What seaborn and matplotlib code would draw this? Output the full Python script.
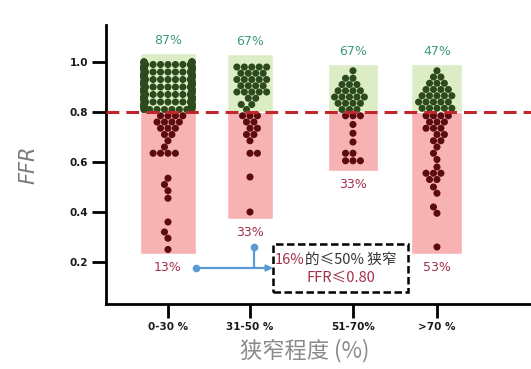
import warnings

import numpy as np
import pandas as pd
import matplotlib
matplotlib.use("Agg")
import matplotlib.pyplot as plt
from matplotlib.patches import Rectangle
import seaborn as sns

warnings.filterwarnings("ignore")

# ---- data: FFR readings per stenosis grade, tabulated as value -> lesion count
groups = ["0-30 %", "31-50 %", "51-70%", ">70 %"]

ffr_0_30 = [1.00, 0.99, 0.98, 0.97, 0.96, 0.95, 0.94, 0.93, 0.92, 0.91,
            0.90, 0.89, 0.88, 0.87, 0.86, 0.85, 0.84, 0.83, 0.82, 0.81,
            0.785, 0.76, 0.735, 0.71, 0.685, 0.66, 0.635,
            0.535, 0.51, 0.485, 0.455, 0.36, 0.32, 0.295, 0.25]
cnt_0_30 = [9, 9, 9, 9, 9, 9, 9, 9, 9, 9,
            9, 9, 9, 9, 9, 9, 9, 9, 9, 9,
            4, 4, 3, 2, 1, 1, 4,
            1, 1, 1, 1, 1, 1, 1, 1]

ffr_31_50 = [0.98, 0.955, 0.93, 0.905, 0.88, 0.855, 0.83, 0.81,
             0.785, 0.76, 0.735, 0.71, 0.685, 0.635, 0.54, 0.40]
cnt_31_50 = [5, 4, 5, 4, 5, 2, 2, 1,
             3, 2, 2, 2, 1, 2, 1, 1]

ffr_51_70 = [0.965, 0.935, 0.91, 0.885, 0.86, 0.835, 0.81,
             0.785, 0.75, 0.715, 0.68, 0.635, 0.605]
cnt_51_70 = [1, 2, 3, 4, 5, 4, 3,
             3, 1, 1, 1, 2, 3]

ffr_70 = [0.965, 0.94, 0.915, 0.89, 0.865, 0.84, 0.815,
          0.785, 0.76, 0.735, 0.71, 0.685, 0.66, 0.635, 0.61, 0.58,
          0.555, 0.53, 0.50, 0.475, 0.42, 0.395, 0.26]
cnt_70 = [1, 2, 3, 4, 5, 5, 5,
          4, 3, 3, 2, 2, 1, 1, 1, 1,
          3, 2, 1, 1, 1, 1, 1]

cutoff = 0.80
yticks = [0.2, 0.4, 0.6, 0.8, 1.0]

# ---- layout: group centres on the x axis and shaded band extents
x_pos = [0.0, 1.367, 3.083, 4.483]
band_w = [0.93, 0.78, 0.82, 0.85]
band_top = [1.036, 1.032, 0.992, 0.992]
band_bottom = [0.233, 0.372, 0.563, 0.233]

dot_palette = {"high": "#2c4a1d", "low": "#5c0b0f"}
band_green = "#dcedc6"
band_red = "#f7b3b4"
txt_green = "#3d9d76"
txt_red = "#a3304b"
link_blue = "#5b9bd5"

sns.set_theme(style="white")
plt.rcParams["font.family"] = ["DejaVu Sans", "Noto Sans CJK SC"]

fig, ax = plt.subplots(figsize=(5.31, 3.69), dpi=100)
fig.subplots_adjust(left=0.1996, right=1.0, bottom=0.1762, top=0.9322)

series = [(ffr_0_30, cnt_0_30), (ffr_31_50, cnt_31_50),
          (ffr_51_70, cnt_51_70), (ffr_70, cnt_70)]

for (vals, cnts), xp, w, top, bot in zip(series, x_pos, band_w, band_top, band_bottom):
    ffr = np.repeat(vals, cnts)
    # shaded bands above / below the cutoff
    ax.bar(xp, top - cutoff, bottom=cutoff, width=w, color=band_green, zorder=1)
    ax.bar(xp, cutoff - bot, bottom=bot, width=w, color=band_red, zorder=1)

    df = pd.DataFrame({"pos": np.full(len(ffr), xp), "ffr": ffr,
                       "zone": np.where(ffr > cutoff, "high", "low")})
    sns.swarmplot(data=df, x="pos", y="ffr", hue="zone", hue_order=["high", "low"],
                  palette=dot_palette, native_scale=True, size=5.1, linewidth=0,
                  legend=False, ax=ax, zorder=3)

    pct_hi = round(100 * np.mean(ffr > cutoff))
    pct_lo = 100 - pct_hi
    ax.text(xp, top + 0.052, f"{pct_hi}%", color=txt_green, ha="center",
            va="center", fontsize=9)
    ax.text(xp, bot - 0.055, f"{pct_lo}%", color=txt_red, ha="center",
            va="center", fontsize=9)

ax.axhline(cutoff, color="#c0272d", lw=2.2, ls=(0, (4.2, 2.3)), zorder=4)

# callout: share of <=50% stenoses with FFR <= 0.80
ax.add_patch(Rectangle((1.75, 0.08), 2.25, 0.192, fill=False, edgecolor="black",
                       lw=1.8, ls=(0, (3, 1.4)), zorder=5))
cjk = ["Noto Sans CJK SC", "DejaVu Sans"]
ax.text(2.283, 0.208, "16%", color=txt_red, ha="right", va="center",
        fontsize=10.5, family=cjk, zorder=6)
ax.text(2.283, 0.208, "的≤50% 狭窄", color="#333333", ha="left", va="center",
        fontsize=10.5, family=cjk, zorder=6)
ax.text(2.883, 0.136, "FFR≤0.80", color=txt_red, ha="center", va="center",
        fontsize=10.5, family=cjk, zorder=6)

ax.annotate("", xy=(1.75, 0.176), xytext=(0.467, 0.176),
            arrowprops=dict(arrowstyle="-|>", color=link_blue, lw=1.6,
                            mutation_scale=9, shrinkA=0, shrinkB=0), zorder=5)
ax.plot([1.433, 1.433], [0.26, 0.176], color=link_blue, lw=1.6, zorder=5)
ax.plot([0.467, 1.433], [0.176, 0.26], ls="none", marker="o", ms=4.5,
        color=link_blue, zorder=5)

ax.set_xlim(-1.033, 6.05)
ax.set_ylim(0.032, 1.148)
ax.set_xticks(x_pos)
ax.set_xticklabels(groups)
ax.set_yticks(yticks)
ax.set_yticklabels([f"{t:.1f}" for t in yticks])
ax.tick_params(axis="both", direction="out", length=10, width=2, labelsize=7.5,
               pad=3, colors="black", labelcolor="#1a1a1a",
               bottom=True, left=True)
for lab in ax.get_xticklabels() + ax.get_yticklabels():
    lab.set_fontweight("bold")

for side in ("top", "right"):
    ax.spines[side].set_visible(False)
for side in ("left", "bottom"):
    ax.spines[side].set_linewidth(2)
    ax.spines[side].set_color("black")

ax.set_ylabel("FFR", fontsize=15, style="italic", color="#7a7a7a")
ax.yaxis.set_label_coords(-0.16, 0.5)
ax.set_xlabel("狭窄程度 (%)", fontsize=16, color="#8a8a8a", family=cjk)
ax.xaxis.set_label_coords(0.468, -0.125)

fig.savefig("out.png", dpi=100, facecolor="white")
